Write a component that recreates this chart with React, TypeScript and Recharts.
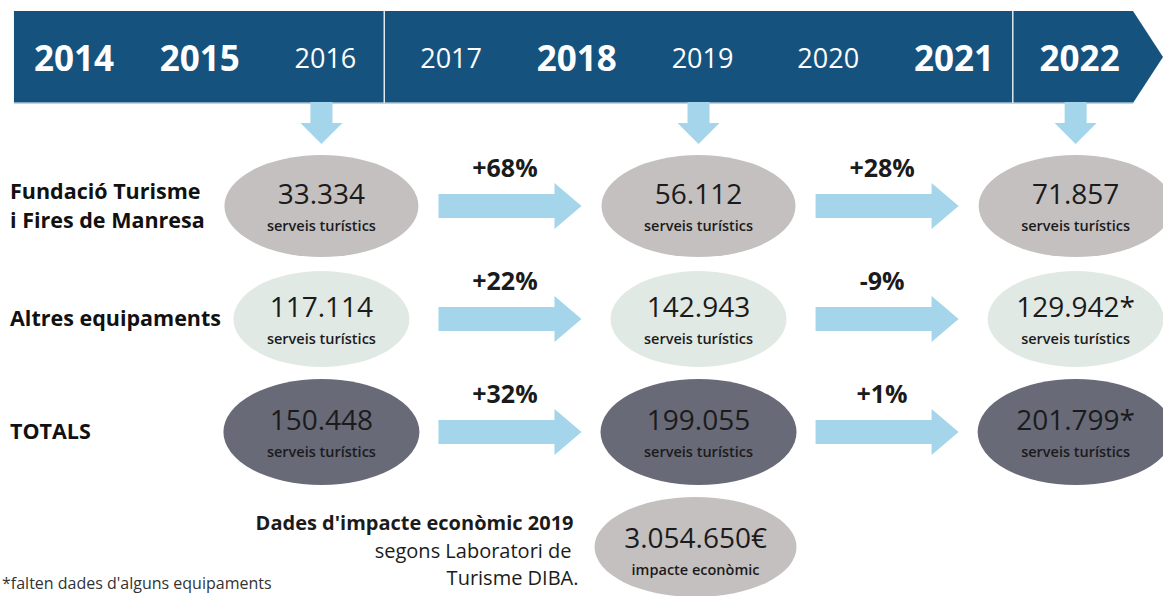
import {
  ComposedChart,
  ReferenceArea,
  ReferenceDot,
  ReferenceLine,
  Scatter,
  XAxis,
  YAxis,
} from "recharts";

// Timeline infographic: tourist services counted in 2016, 2019 and 2022,
// with the % change between each pair of years.

const timelineYears = [2014, 2015, 2016, 2017, 2018, 2019, 2020, 2021, 2022];
const boldYears = [2014, 2015, 2018, 2021, 2022];
const columns = [2016, 2019, 2022];

const rowLabels = [["Fundació Turisme", "i Fires de Manresa"], ["Altres equipaments"], ["TOTALS"]];

const fundacio = [33334, 56112, 71857];
const altres = [117114, 142943, 129942];
const totals = [150448, 199055, 201799];

// "*" = some venues missing data
const fundacioStar = [false, false, false];
const altresStar = [false, false, true];
const totalsStar = [false, false, true];

const fundacioChange = ["+68%", "+28%"];
const altresChange = ["+22%", "-9%"];
const totalsChange = ["+32%", "+1%"];

const economicYear = 2019;
const economicValue = 3054650;

const W = 1163;
const H = 596;
const X_DOMAIN = [2013.443, 2022.695];
const Y_DOMAIN = [-1.823, 3.451];
// timeline band, in row units
const BAND_TOP = -1.726;
const BAND_BOTTOM = -0.912;
const BAND_MID = (BAND_TOP + BAND_BOTTOM) / 2 + 0.01;

const FONT = "'Open Sans', 'Noto Sans', sans-serif";
const INK = "#1b1b1b";
const BLUE = "#15537e";
const ARROW = "#a4d5ea";

const ROW_STYLE = [
  { fill: "#c4c0c0", rx: 97, ry: 51 },
  { fill: "#e1e9e5", rx: 88, ry: 48 },
  { fill: "#686a78", rx: 98, ry: 53 },
];

const rowValues = [fundacio, altres, totals];
const rowStars = [fundacioStar, altresStar, totalsStar];
const rowChanges = [fundacioChange, altresChange, totalsChange];

const fmt = (n: number) => String(n).replace(/\B(?=(\d{3})+(?!\d))/g, ".");

const bubbleData = (r: number) =>
  columns.map((year, i) => ({ year, row: r, value: rowValues[r][i], star: rowStars[r][i] }));

const arrowData = (r: number) =>
  rowChanges[r].map((label, i) => ({ year: (columns[i] + columns[i + 1]) / 2, row: r, label }));

function YearLabel({ cx, cy, year }: any) {
  const bold = boldYears.includes(year);
  const fs = bold ? 35 : 27;
  return (
    <text
      x={cx + 4}
      y={cy + fs * 0.357}
      textAnchor="middle"
      fill="#fff"
      fontFamily={FONT}
      fontSize={fs}
      fontWeight={bold ? 700 : 400}
    >
      {year}
    </text>
  );
}

function RowLabel({ cy, row }: any) {
  const lines = rowLabels[row] ?? [];
  const first = cy + 7 - ((lines.length - 1) * 29) / 2;
  return (
    <text x={10} y={first} fill="#111" fontFamily={FONT} fontSize={21.5} fontWeight={700}>
      {lines.map((l, i) => (
        <tspan key={l} x={10} y={first + i * 29}>
          {l}
        </tspan>
      ))}
    </text>
  );
}

function TimelineBar({ x, y, width, height }: any) {
  const tip = 30;
  const pts = [
    [x, y],
    [x + width - tip, y],
    [x + width, y + height / 2],
    [x + width - tip, y + height],
    [x, y + height],
  ]
    .map((p) => p.join(","))
    .join(" ");
  return (
    <g>
      <polygon points={pts} fill={BLUE} />
      <line x1={x} x2={x + width - tip} y1={y + height} y2={y + height} stroke="#a9c3d6" strokeWidth={1.5} />
    </g>
  );
}

function DownArrow({ cx, cy }: any) {
  const pts = [
    [cx - 11, cy - 21],
    [cx + 11, cy - 21],
    [cx + 11, cy],
    [cx + 21, cy],
    [cx, cy + 21],
    [cx - 21, cy],
    [cx - 11, cy],
  ]
    .map((p) => p.join(","))
    .join(" ");
  return <polygon points={pts} fill={ARROW} />;
}

function Bubble({ cx, cy, payload, fill, rx, ry }: any) {
  return (
    <g>
      <ellipse cx={cx} cy={cy} rx={rx} ry={ry} fill={fill} />
      <text x={cx} y={cy - 2} textAnchor="middle" fill={INK} fontFamily={FONT} fontSize={28} fontWeight={500}>
        {fmt(payload.value) + (payload.star ? "*" : "")}
      </text>
      <text x={cx} y={cy + 25} textAnchor="middle" fill={INK} fontFamily={FONT} fontSize={14.5} fontWeight={600}>
        serveis turístics
      </text>
    </g>
  );
}

function FlowArrow({ cx, cy, payload }: any) {
  const L = 143;
  const hl = 27;
  const sh = 12;
  const hh = 23;
  const x0 = cx - L / 2;
  const x1 = cx + L / 2;
  const pts = [
    [x0, cy - sh],
    [x1 - hl, cy - sh],
    [x1 - hl, cy - hh],
    [x1, cy],
    [x1 - hl, cy + hh],
    [x1 - hl, cy + sh],
    [x0, cy + sh],
  ]
    .map((p) => p.join(","))
    .join(" ");
  return (
    <g>
      <polygon points={pts} fill={ARROW} />
      <text x={cx - 5} y={cy - 29} textAnchor="middle" fill={INK} fontFamily={FONT} fontSize={25} fontWeight={700}>
        {payload.label}
      </text>
    </g>
  );
}

function EconomicBubble({ cx, cy, payload }: any) {
  const t = { fill: INK, fontFamily: FONT, fontSize: 20 } as const;
  return (
    <g>
      <ellipse cx={cx - 3} cy={cy + 2} rx={101} ry={50} fill="#c4c0c0" />
      <text x={cx - 3} y={cy + 3} textAnchor="middle" fill={INK} fontFamily={FONT} fontSize={28} fontWeight={500}>
        {fmt(payload.value)}€
      </text>
      <text x={cx - 3} y={cy + 30} textAnchor="middle" fill={INK} fontFamily={FONT} fontSize={14.5} fontWeight={600}>
        impacte econòmic
      </text>
      <text x={cx - 125} y={cy - 15} textAnchor="end" {...t} fontWeight={700}>
        Dades d'impacte econòmic {payload.year}
      </text>
      <text x={cx - 127} y={cy + 13} textAnchor="end" {...t}>
        segons Laboratori de
      </text>
      <text x={cx - 120} y={cy + 40} textAnchor="end" {...t}>
        Turisme DIBA.
      </text>
    </g>
  );
}

export default function App() {
  return (
    <div style={{ position: "absolute", left: 0, top: 0, width: W, height: H, background: "#fff" }}>
      <ComposedChart width={W} height={H} margin={{ top: 0, right: 0, bottom: 0, left: 0 }}>
        <XAxis type="number" dataKey="year" domain={X_DOMAIN} allowDataOverflow hide />
        <YAxis type="number" dataKey="row" domain={Y_DOMAIN} reversed allowDataOverflow hide />
        <ReferenceArea
          x1={2013.554}
          x2={X_DOMAIN[1]}
          y1={BAND_TOP}
          y2={BAND_BOTTOM}
          ifOverflow="visible"
          shape={TimelineBar}
        />
        {[2016.5, 2021.5].map((x) => (
          <ReferenceLine
            key={x}
            segment={[
              { x, y: BAND_TOP },
              { x, y: BAND_BOTTOM },
            ]}
            stroke="#dfe9f0"
            strokeWidth={1.5}
            ifOverflow="visible"
          />
        ))}
        {timelineYears.map((year) => (
          <ReferenceDot
            key={"y" + year}
            x={year}
            y={BAND_MID}
            ifOverflow="visible"
            shape={(p: any) => <YearLabel {...p} year={year} />}
          />
        ))}
        {rowLabels.map((_, r) => (
          <ReferenceDot
            key={"r" + r}
            x={X_DOMAIN[0]}
            y={r}
            ifOverflow="visible"
            shape={(p: any) => <RowLabel {...p} row={r} />}
          />
        ))}
        {columns.map((year) => (
          <ReferenceDot key={year} x={year} y={-0.735} ifOverflow="visible" shape={DownArrow} />
        ))}
        {[0, 1, 2].map((r) => (
          <Scatter
            key={"b" + r}
            data={bubbleData(r)}
            isAnimationActive={false}
            shape={(p: any) => <Bubble {...p} {...ROW_STYLE[r]} />}
          />
        ))}
        {[0, 1, 2].map((r) => (
          <Scatter key={"a" + r} data={arrowData(r)} isAnimationActive={false} shape={FlowArrow} />
        ))}
        <Scatter
          data={[{ year: economicYear, row: 3, value: economicValue }]}
          isAnimationActive={false}
          shape={EconomicBubble}
        />
      </ComposedChart>
      <div
        style={{
          position: "absolute",
          left: 2,
          top: 572,
          fontFamily: FONT,
          fontSize: 16,
          color: "#333",
          whiteSpace: "nowrap",
        }}
      >
        *falten dades d'alguns equipaments
      </div>
    </div>
  );
}
